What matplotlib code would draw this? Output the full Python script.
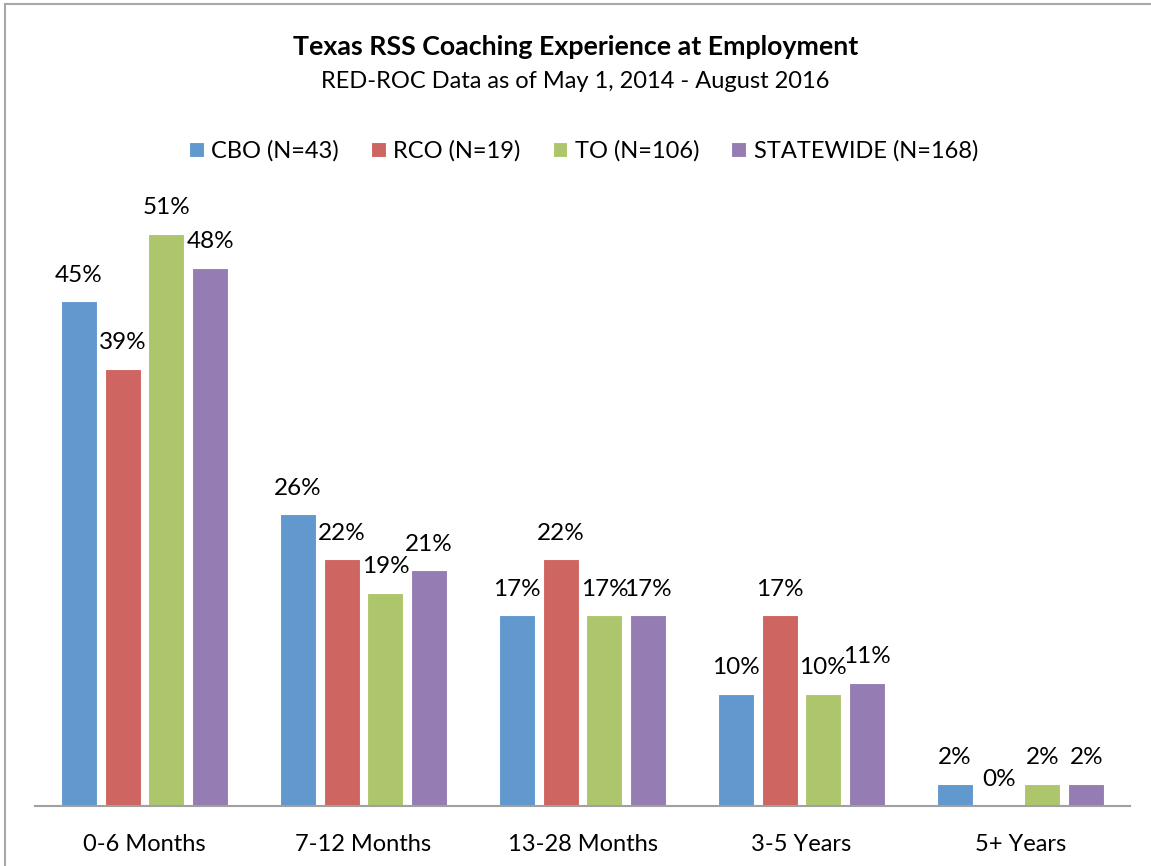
import numpy as np
import matplotlib.pyplot as plt
from matplotlib.lines import Line2D

plt.rcParams['font.family'] = ['Lato', 'DejaVu Sans']

categories = ['0-6 Months', '7-12 Months', '13-28 Months', '3-5 Years', '5+ Years']
series_names = ['CBO (N=43)', 'RCO (N=19)', 'TO (N=106)', 'STATEWIDE (N=168)']
cbo = [45, 26, 17, 10, 2]
rco = [39, 22, 22, 17, 0]
to = [51, 19, 17, 10, 2]
statewide = [48, 21, 17, 11, 2]
series_values = [cbo, rco, to, statewide]
colors = ['#6198CE', '#CF6560', '#ADC66C', '#957CB3']

fig = plt.figure(figsize=(11.51, 8.66), dpi=100)
W, H = 1151, 866
ax = fig.add_axes([35 / W, 1 - 806 / H, 1095 / W, (806 - 133) / H])

x = np.arange(len(categories))
offsets = [-0.3, -0.1, 0.1, 0.3]
handles = []
for vals, off, col, name in zip(series_values, offsets, colors, series_names):
    bars = ax.bar(x + off, vals, width=0.165, color=col, edgecolor='white',
                  linewidth=0.8, label=name)
    handles.append(bars)
    for b, v in zip(bars, vals):
        ax.text(b.get_x() + b.get_width() / 2, v + 1.4, f'{v}%', ha='center',
                va='bottom', fontsize=17.5)

ax.set_xlim(-0.5, 4.5)
ax.set_ylim(0, 60)
ax.set_xticks(x)
ax.set_xticklabels(categories, fontsize=17)
ax.tick_params(axis='x', length=0, pad=20)
ax.set_yticks([])
for s in ['top', 'right', 'left']:
    ax.spines[s].set_visible(False)
ax.spines['bottom'].set_color('#A0A0A0')
ax.spines['bottom'].set_linewidth(1.5)

fig.text(0.5, 1 - 47 / H, 'Texas RSS Coaching Experience at Employment',
         ha='center', va='center', fontsize=19.3, fontweight='bold')
fig.text(0.5, 1 - 82 / H, 'RED-ROC Data as of May 1, 2014 - August 2016',
         ha='center', va='center', fontsize=17)

fig.legend(handles=handles, loc='center', bbox_to_anchor=(0.507, 1 - 151 / H),
           ncol=4, frameon=False, fontsize=17, handlelength=0.62,
           handleheight=0.62, handletextpad=0.33, columnspacing=1.35)

# chart border
fig.add_artist(Line2D([4.5 / W, 4.5 / W], [0, 1 - 3.5 / H], color='#A8A8A8',
                      linewidth=1.5, transform=fig.transFigure))
fig.add_artist(Line2D([4.5 / W, 1], [1 - 3.5 / H, 1 - 3.5 / H], color='#A8A8A8',
                      linewidth=1.5, transform=fig.transFigure))

fig.savefig('out.png', dpi=100)
